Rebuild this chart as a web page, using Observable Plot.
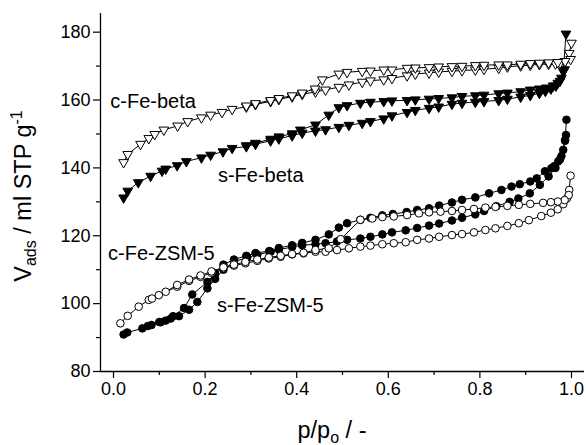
<!DOCTYPE html>
<html><head><meta charset="utf-8">
<script src="https://cdn.jsdelivr.net/npm/d3@7"></script>
<script src="https://cdn.jsdelivr.net/npm/@observablehq/plot@0.6"></script>
<style>
html,body{margin:0;padding:0;background:#fff;}
#chart svg{display:block;}
</style></head><body><div id="chart"></div>
<script>
// ---- data ----
const cBetaAdsP = [0.022,0.031,0.059,0.077,0.09,0.11,0.14,0.162,0.192,0.212,0.237,0.259,0.29,0.31,0.343,0.361,0.39,0.412,0.441,0.463,0.492,0.514,0.543,0.561,0.59,0.608,0.641,0.659,0.689,0.71,0.739,0.761,0.79,0.809,0.841,0.86,0.889,0.91,0.93,0.95,0.965,0.975,0.986,0.995,1.0];
const cBetaAdsV = [141.6,144.0,147.0,148.7,149.9,151.2,152.4,153.7,154.8,155.6,156.4,157.3,158.0,158.7,159.6,160.2,161.0,161.7,162.4,163.0,163.8,164.5,165.3,165.7,166.0,166.4,167.2,167.7,168.0,168.3,168.5,168.7,168.9,169.1,169.4,169.8,170.1,170.3,170.5,170.6,170.7,170.9,171.4,173.8,176.8];
const cBetaDesP = [0.998,0.986,0.97,0.95,0.93,0.91,0.889,0.86,0.841,0.809,0.79,0.761,0.739,0.71,0.689,0.659,0.641,0.608,0.59,0.561,0.543,0.51,0.492,0.456,0.44,0.412,0.39,0.361,0.343,0.31,0.29];
const cBetaDesV = [172.0,171.4,171.1,171.0,170.9,170.8,170.6,170.4,170.4,170.3,170.2,170.0,169.9,169.8,169.6,169.5,169.4,168.9,168.9,168.6,168.5,168.2,167.7,166.0,163.3,162.1,161.3,160.5,159.9,159.0,158.3];

const sBetaAdsP = [0.022,0.031,0.054,0.081,0.106,0.114,0.139,0.159,0.192,0.212,0.239,0.259,0.29,0.31,0.343,0.361,0.39,0.412,0.441,0.463,0.492,0.514,0.543,0.561,0.59,0.608,0.641,0.659,0.689,0.71,0.739,0.761,0.79,0.809,0.841,0.86,0.889,0.91,0.93,0.943,0.955,0.966,0.975,0.982,0.988];
const sBetaAdsV = [131.2,133.2,135.7,137.6,139.1,139.7,140.7,141.9,143.0,143.8,144.8,145.8,146.3,147.0,148.0,148.6,149.5,150.3,150.9,151.3,152.0,152.6,153.2,153.7,154.5,155.4,156.4,157.0,157.6,158.0,158.8,159.1,159.4,159.6,159.9,160.3,160.9,161.4,162.0,162.6,163.3,164.2,165.6,168.4,179.5];
const sBetaDesP = [0.985,0.978,0.97,0.96,0.945,0.93,0.91,0.889,0.86,0.841,0.809,0.79,0.761,0.739,0.71,0.689,0.659,0.641,0.608,0.59,0.561,0.539,0.51,0.492,0.47,0.441,0.408,0.39,0.361,0.343,0.31,0.29];
const sBetaDesV = [169.0,166.5,165.0,164.2,163.6,163.3,163.0,162.5,162.1,161.9,161.5,161.3,161.1,160.7,160.5,160.3,160.1,159.9,159.8,159.6,159.4,159.1,158.4,157.8,155.6,152.7,151.2,150.1,149.2,148.5,147.3,146.6];

const cZsmAdsP = [0.015,0.031,0.055,0.077,0.099,0.139,0.165,0.19,0.214,0.24,0.263,0.288,0.314,0.339,0.365,0.39,0.415,0.441,0.463,0.488,0.514,0.539,0.561,0.587,0.612,0.638,0.663,0.689,0.711,0.739,0.761,0.787,0.812,0.834,0.86,0.885,0.907,0.934,0.955,0.97,0.982,0.99,0.995,0.998];
const cZsmAdsV = [94.2,96.4,99.1,101.1,102.5,105.0,106.7,107.9,109.1,110.4,111.2,111.9,112.6,113.3,113.8,114.5,114.8,115.3,115.3,115.8,116.3,116.8,117.1,117.5,117.8,118.1,118.8,119.2,119.7,120.2,120.5,121.0,121.7,122.2,122.9,123.7,124.6,125.8,126.8,127.8,129.3,131.0,133.5,137.7];
const cZsmDesP = [0.994,0.985,0.97,0.955,0.938,0.91,0.885,0.86,0.834,0.812,0.787,0.761,0.739,0.714,0.689,0.667,0.641,0.612,0.587,0.565,0.539,0.496,0.47,0.441,0.415,0.39,0.365,0.339,0.314,0.288,0.263,0.24,0.214,0.19,0.165,0.139,0.114,0.084];
const cZsmDesV = [132.0,130.5,130.1,129.9,129.7,129.4,129.1,128.8,128.5,128.3,127.9,127.6,127.3,127.1,126.9,126.6,126.1,125.7,125.5,125.1,124.7,119.0,116.3,115.8,115.0,114.6,114.1,113.6,113.0,112.3,111.5,110.7,109.5,108.3,107.1,105.5,103.5,101.5];

const sZsmAdsP = [0.022,0.030,0.063,0.083,0.103,0.114,0.125,0.143,0.165,0.183,0.205,0.222,0.24,0.263,0.292,0.314,0.343,0.361,0.39,0.412,0.441,0.463,0.488,0.51,0.539,0.561,0.587,0.608,0.638,0.663,0.689,0.711,0.739,0.761,0.79,0.809,0.836,0.865,0.884,0.909,0.931,0.95,0.965,0.975,0.982,0.986,0.989];
const sZsmAdsV = [90.9,91.5,92.7,93.7,94.5,95.0,95.6,96.3,98.2,100.5,104.5,107.3,110.0,112.3,113.6,114.4,115.3,115.9,116.7,117.2,117.5,117.8,118.3,118.8,119.2,119.7,120.4,121.0,121.6,122.3,123.0,123.6,124.5,125.3,126.3,127.3,128.7,130.0,131.0,132.5,135.0,137.5,140.0,142.5,145.3,148.2,154.2];
const sZsmDesP = [0.988,0.986,0.978,0.971,0.962,0.956,0.942,0.924,0.91,0.887,0.869,0.847,0.82,0.79,0.761,0.739,0.711,0.689,0.663,0.64,0.61,0.587,0.561,0.539,0.51,0.492,0.47,0.441,0.412,0.39,0.361,0.34,0.31,0.29,0.263,0.24,0.222,0.205,0.172,0.154,0.13,0.10,0.075];
const sZsmDesV = [149.7,148.0,143.5,141.9,140.5,139.9,139.0,136.9,136.0,135.2,134.5,133.5,132.5,131.3,130.6,129.8,128.9,128.1,127.6,127.0,126.4,126.0,125.3,124.7,123.7,122.4,120.4,118.8,117.9,117.2,116.4,115.5,114.9,114.1,113.0,111.5,108.9,106.4,102.7,98.7,96.3,94.6,93.4];

const labelText = ["c-Fe-beta","s-Fe-beta","c-Fe-ZSM-5","s-Fe-ZSM-5"];
const labelP = [-0.007,0.228,-0.012,0.226];
const labelV = [159.6,137.7,114.8,99.5];

const xTicks = [0,0.2,0.4,0.6,0.8,1.0];
const xMinor = [0.1,0.3,0.5,0.7,0.9];
const yTicks = [80,100,120,140,160,180];
const yMinor = [90,110,130,150,170];
const xDomain = [-0.0284,1.0284];
const yDomain = [80,185.5];

// ---- build tables ----
function branch(key, ps, vs){ return ps.map((p,i)=>({key, p, v: vs[i]})); }
const cBeta = [...branch("cBa",cBetaAdsP,cBetaAdsV), ...branch("cBd",cBetaDesP,cBetaDesV)];
const sBeta = [...branch("sBa",sBetaAdsP,sBetaAdsV), ...branch("sBd",sBetaDesP,sBetaDesV)];
const cZsm = [...branch("cZa",cZsmAdsP,cZsmAdsV), ...branch("cZd",cZsmDesP,cZsmDesV)];
const sZsm = [...branch("sZa",sZsmAdsP,sZsmAdsV), ...branch("sZd",sZsmDesP,sZsmDesV)];
const allRows = [...sZsm, ...cZsm, ...sBeta, ...cBeta];
const labels = labelText.map((t,i)=>({t, p: labelP[i], v: labelV[i]}));

const triDown = {
  draw(ctx, size){
    const s = Math.sqrt(size*4/Math.sqrt(3));
    const h = s*Math.sqrt(3)/2;
    ctx.moveTo(-s/2, -h/3);
    ctx.lineTo(s/2, -h/3);
    ctx.lineTo(0, 2*h/3);
    ctx.closePath();
  }
};

const FONT = "'Liberation Sans', Arial, Helvetica, sans-serif";

const plot = Plot.plot({
  width: 586, height: 445,
  marginLeft: 100, marginRight: 2, marginTop: 13, marginBottom: 74,
  x: {domain: xDomain},
  y: {domain: yDomain},
  style: {fontFamily: FONT, background: "white", color: "black", fontSize: "18px"},
  marks: [
    Plot.axisX({ticks: xTicks, tickSize: 7, tickPadding: 4, tickFormat: d3.format(".1f"), fontSize: 18, label: null, strokeWidth: 1.2}),
    Plot.axisX({ticks: xMinor, tickSize: 4, text: null, label: null, strokeWidth: 1.2}),
    Plot.axisY({ticks: yTicks, tickSize: 7, tickPadding: 3, fontSize: 18, label: null, strokeWidth: 1.2}),
    Plot.axisY({ticks: yMinor, tickSize: 4, text: null, label: null, strokeWidth: 1.2}),
    Plot.ruleY([yDomain[0]], {stroke: "black", strokeWidth: 1.3}),
    Plot.ruleX([xDomain[0]], {stroke: "black", strokeWidth: 1.3}),
    Plot.line(allRows, {x: "p", y: "v", z: "key", stroke: "black", strokeWidth: 1}),
    Plot.dot(sZsm, {x: "p", y: "v", r: 3.8, fill: "black", stroke: "black", strokeWidth: 1}),
    Plot.dot(cZsm, {x: "p", y: "v", r: 3.8, fill: "white", stroke: "black", strokeWidth: 1}),
    Plot.dot(sBeta, {x: "p", y: "v", r: 3.6, symbol: triDown, fill: "black", stroke: "black", strokeWidth: 1}),
    Plot.dot(cBeta, {x: "p", y: "v", r: 3.6, symbol: triDown, fill: "white", stroke: "black", strokeWidth: 1}),
    Plot.text(labels, {x: "p", y: "v", text: "t", textAnchor: "start", fontSize: 20, fill: "black"})
  ]
});

const svg = d3.select(plot);
// y-axis title
const yl = svg.append("text")
  .attr("transform", "translate(31,196) rotate(-90)")
  .attr("text-anchor", "middle")
  .attr("font-family", FONT).attr("font-size", 23.5).attr("fill", "black");
yl.append("tspan").text("V");
yl.append("tspan").attr("font-size", 16).attr("dy", 5).text("ads");
yl.append("tspan").attr("dy", -5).text(" / ml STP g");
yl.append("tspan").attr("font-size", 16).attr("dy", -9).text("-1");
// x-axis title
const xl = svg.append("text")
  .attr("x", 332).attr("y", 438)
  .attr("text-anchor", "middle")
  .attr("font-family", FONT).attr("font-size", 23.5).attr("fill", "black");
xl.append("tspan").text("p/p");
xl.append("tspan").attr("font-size", 16).attr("dy", 5).text("o");
xl.append("tspan").attr("dy", -5).text(" / -");

document.getElementById("chart").appendChild(plot);
</script>
</body></html>
